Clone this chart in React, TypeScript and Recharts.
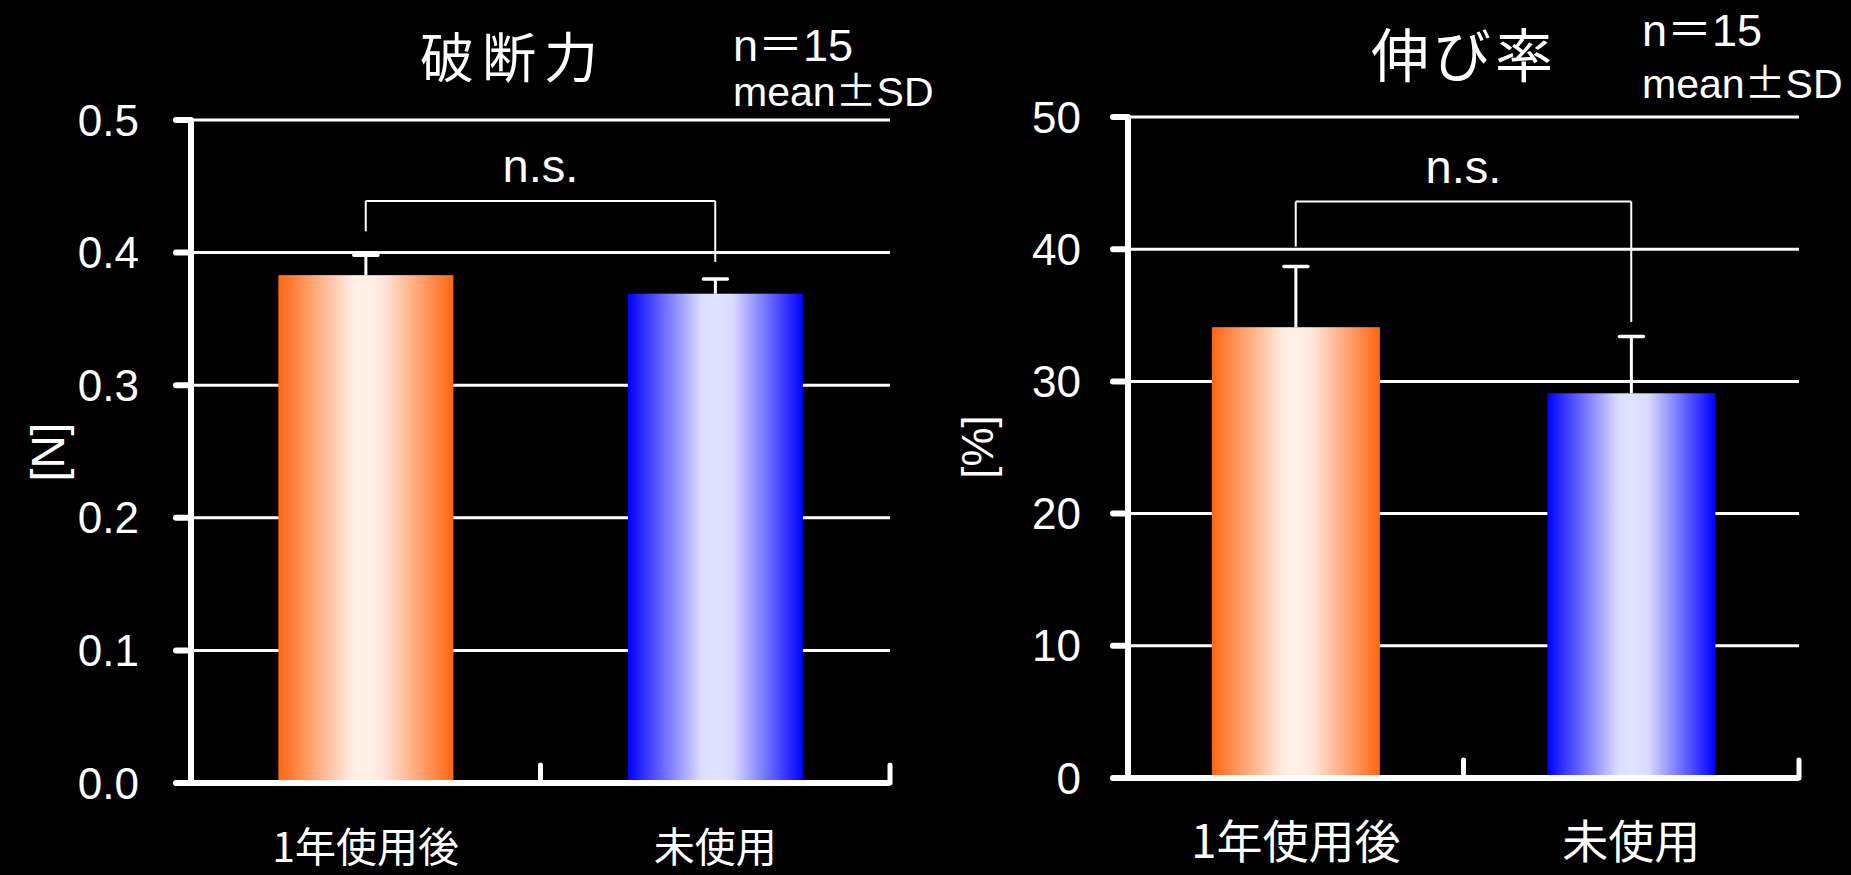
import React from 'react';
import { BarChart, Bar, XAxis, YAxis, CartesianGrid, Cell, ReferenceLine } from 'recharts';

// ---- data ----
const categories = ['1年使用後', '未使用'];
const forceMean = [0.383, 0.369];
const forceSD = [0.015, 0.011];
const forceTicks = [0, 0.1, 0.2, 0.3, 0.4, 0.5];
const forceBracket = [0.439, 0.416, 0.393]; // bar, left leg end, right leg end

const elongMean = [34.1, 29.1];
const elongSD = [4.6, 4.3];
const elongTicks = [0, 10, 20, 30, 40, 50];
const elongBracket = [43.6, 40.2, 34.5];

const orangeStops: [string, string][] = [
  ['0%', '#ff6612'], ['42%', '#ffece0'], ['50%', '#fff1e8'], ['60%', '#ffe6da'], ['100%', '#ff6612'],
];
const blueStops: [string, string][] = [
  ['0%', '#0000ff'], ['42%', '#dcdcff'], ['50%', '#e2e2ff'], ['60%', '#dadaff'], ['100%', '#0000ff'],
];

const FONT = '"Liberation Sans", Arial, "Noto Sans CJK JP", sans-serif';
const JFONT = '"Noto Sans CJK JP", "Noto Sans CJK SC", sans-serif';

const makeShape = () => (props: any) => {
  const { x, y, width, height, fill, payload, value } = props;
  const v = Array.isArray(value) ? value[1] - value[0] : value;
  const unit = v ? height / v : 0;
  const cx = x + width / 2;
  const top = y - payload.sd * unit;
  return (
    <g>
      <rect x={x} y={y} width={width} height={height} fill={fill} />
      <line x1={cx} x2={cx} y1={y} y2={top} stroke="#fff" strokeWidth={3} />
      <line x1={cx - 12} x2={cx + 12} y1={top} y2={top} stroke="#fff" strokeWidth={3.5} strokeLinecap="round" />
    </g>
  );
};

type PanelProps = {
  id: string;
  left: number;
  width: number;
  marginTop: number;
  marginRight: number;
  yAxisWidth: number;
  xAxisHeight: number;
  means: number[];
  sds: number[];
  ticks: number[];
  decimals: number;
  bracket: number[];
  tickMargin: number;
  xLabelOffset: number;
  xLabelSize: number;
};

const Panel = (p: PanelProps) => {
  const data = categories.map((c, i) => ({ name: c, mean: p.means[i], sd: p.sds[i] }));
  const fills = [`url(#${p.id}-o)`, `url(#${p.id}-b)`];
  const domainMax = p.ticks[p.ticks.length - 1];
  const XTick = (tp: any) => (
    <text
      x={tp.x}
      y={tp.y + p.xLabelOffset}
      textAnchor="middle"
      dominantBaseline="central"
      fill="#fff"
      fontSize={p.xLabelSize}
      fontFamily={JFONT}
    >
      {tp.payload.value}
    </text>
  );
  const boundaryTick = (lp: any) => {
    const yb = Math.max(lp.y1, lp.y2);
    return <line x1={lp.x1} x2={lp.x1} y1={yb} y2={yb - 18} stroke="#fff" strokeWidth={5} strokeLinecap="round" />;
  };
  return (
    <div style={{ position: 'absolute', left: p.left, top: 0 }}>
      <BarChart
        width={p.width}
        height={875}
        data={data}
        margin={{ top: p.marginTop, right: p.marginRight, bottom: 0, left: 0 }}
        barCategoryGap="25%"
      >
        <defs>
          <linearGradient id={`${p.id}-o`} x1="0" y1="0" x2="1" y2="0">
            {orangeStops.map(([o, c]) => <stop key={o} offset={o} stopColor={c} />)}
          </linearGradient>
          <linearGradient id={`${p.id}-b`} x1="0" y1="0" x2="1" y2="0">
            {blueStops.map(([o, c]) => <stop key={o} offset={o} stopColor={c} />)}
          </linearGradient>
        </defs>
        <CartesianGrid vertical={false} stroke="#fff" strokeWidth={3} />
        <XAxis
          dataKey="name"
          height={p.xAxisHeight}
          axisLine={{ stroke: '#fff', strokeWidth: 6 }}
          tickLine={false}
          tickSize={0}
          tickMargin={0}
          tick={XTick}
          interval={0}
        />
        <YAxis
          width={p.yAxisWidth}
          domain={[0, domainMax]}
          ticks={p.ticks}
          tickFormatter={(v: number) => v.toFixed(p.decimals)}
          axisLine={{ stroke: '#fff', strokeWidth: 6 }}
          tickLine={{ stroke: '#fff', strokeWidth: 6, strokeLinecap: 'round' } as any}
          tickSize={15}
          tickMargin={p.tickMargin}
          tick={{ fill: '#fff', fontSize: 44, fontFamily: FONT }}
          allowDataOverflow
        />
        <Bar dataKey="mean" isAnimationActive={false} shape={makeShape()}>
          {data.map((d, i) => <Cell key={d.name} fill={fills[i]} />)}
        </Bar>
        {categories.map((c) => (
          <ReferenceLine key={`bt-${c}`} x={c} position="end" ifOverflow="visible" shape={boundaryTick} />
        ))}
        <ReferenceLine
          segment={[{ x: categories[0], y: p.bracket[0] }, { x: categories[1], y: p.bracket[0] }]}
          stroke="#fff"
          strokeWidth={2}
          ifOverflow="visible"
          label={{ value: 'n.s.', position: 'top', offset: 19, fill: '#fff', fontSize: 47, fontFamily: FONT }}
        />
        <ReferenceLine
          segment={[{ x: categories[0], y: p.bracket[0] }, { x: categories[0], y: p.bracket[1] }]}
          stroke="#fff"
          strokeWidth={2}
          ifOverflow="visible"
        />
        <ReferenceLine
          segment={[{ x: categories[1], y: p.bracket[0] }, { x: categories[1], y: p.bracket[2] }]}
          stroke="#fff"
          strokeWidth={2}
          ifOverflow="visible"
        />
      </BarChart>
    </div>
  );
};

export default function App() {
  return (
    <div style={{ position: 'absolute', left: 0, top: 0, width: 1851, height: 875, background: '#000', overflow: 'hidden' }}>
      <Panel
        id="force"
        left={0}
        width={950}
        marginTop={120}
        marginRight={60}
        yAxisWidth={191}
        xAxisHeight={92}
        means={forceMean}
        sds={forceSD}
        ticks={forceTicks}
        decimals={1}
        bracket={forceBracket}
        tickMargin={37}
        xLabelOffset={61}
        xLabelSize={41}
      />
      <Panel
        id="elong"
        left={950}
        width={901}
        marginTop={117}
        marginRight={52}
        yAxisWidth={178}
        xAxisHeight={97}
        means={elongMean}
        sds={elongSD}
        ticks={elongTicks}
        decimals={0}
        bracket={elongBracket}
        tickMargin={32}
        xLabelOffset={60}
        xLabelSize={46}
      />
      <svg width={1851} height={875} style={{ position: 'absolute', left: 0, top: 0, pointerEvents: 'none' }}>
        <text x={513} y={78} textAnchor="middle" fill="#fff" fontSize={54} fontFamily={JFONT} letterSpacing={8}>破断力</text>
        <text x={1464} y={77} textAnchor="middle" fill="#fff" fontSize={58} fontFamily={JFONT} letterSpacing={4}>伸び率</text>
        <text x={733} y={61} fill="#fff" fontSize={45} fontFamily={FONT}>n＝15</text>
        <text x={733} y={106} fill="#fff" fontSize={41} fontFamily={FONT}>mean<tspan fontFamily={JFONT}>±</tspan>SD</text>
        <text x={1642} y={46} fill="#fff" fontSize={45} fontFamily={FONT}>n＝15</text>
        <text x={1642} y={98} fill="#fff" fontSize={41} fontFamily={FONT}>mean<tspan fontFamily={JFONT}>±</tspan>SD</text>
        <text x={48} y={452} transform="rotate(-90 48 452)" textAnchor="middle" dominantBaseline="central" fill="#fff" fontSize={46} fontFamily={FONT}>[N]</text>
        <text x={977} y={447} transform="rotate(-90 977 447)" textAnchor="middle" dominantBaseline="central" fill="#fff" fontSize={44} fontFamily={FONT}>[%]</text>
      </svg>
    </div>
  );
}
